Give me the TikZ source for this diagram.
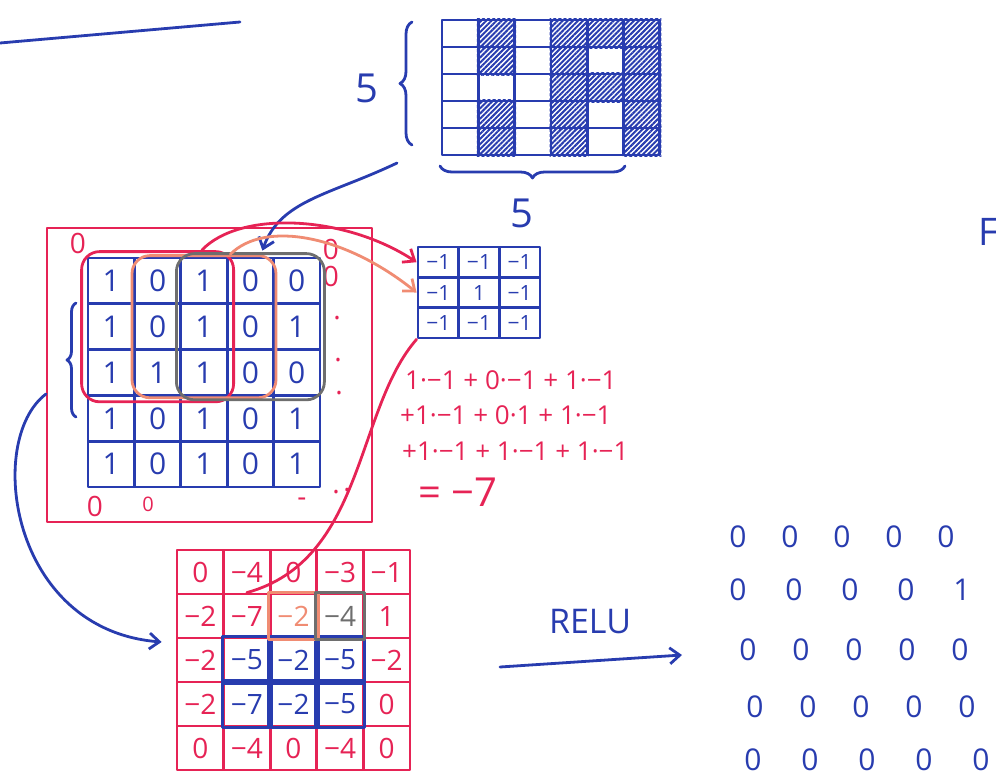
\documentclass[tikz,border=0pt]{standalone}
\usepackage{fontspec}
\setmainfont{Open Sans}
\usetikzlibrary{positioning, calc, fit, patterns.meta, decorations.pathreplacing, arrows.meta}
\definecolor{penblue}{RGB}{40,60,175}
\definecolor{penred}{RGB}{230,35,85}
\definecolor{penorange}{RGB}{240,140,115}
\definecolor{pengray}{RGB}{110,110,110}

\begin{document}
\begin{tikzpicture}[x=1pt, y=-1pt,
    ink/.style={line width=2.8pt, line cap=round, line join=round},
    topcell/.style={draw=penblue, ink, minimum width=36.3pt, minimum height=27pt, inner sep=0pt},
    hatched/.style={pattern={Lines[angle=45, distance=3.6pt, line width=2pt]}, pattern color=penblue},
    incell/.style={draw=penblue, ink, minimum width=46.4pt, minimum height=45.8pt, inner sep=0pt, text=penblue, font=\fontsize{30}{30}\selectfont},
    kercell/.style={draw=penblue, ink, minimum width=40.7pt, minimum height=30.3pt, inner sep=0pt, text=penblue, font=\fontsize{21}{21}\selectfont},
    outcell/.style={draw=penred, ink, minimum width=46.6pt, minimum height=44pt, inner sep=0pt, font=\fontsize{28}{28}\selectfont},
    relucell/.style={text=penblue, inner sep=0pt, font=\fontsize{30}{30}\selectfont},
    pad/.style={text=penred, inner sep=0pt, font=\fontsize{28}{28}\selectfont},
    window/.style={ink, rounded corners=18pt, inner sep=3pt},
    sum/.style={text=penred, anchor=west, inner sep=0pt, font=\fontsize{26}{26}\selectfont},
    arrow/.style={ink, -{Straight Barb[length=10pt, width=16pt, line width=2.8pt]}},
    brace/.style={ink, decorate, decoration={brace, amplitude=12pt}}
]
\useasboundingbox (0,0) rectangle (996,782);

\draw[penblue, ink] (0,43) -- (240,22);
\node[text=penblue, font=\fontsize{38}{38}\selectfont] (cutF) at (988,232) {F};

% image 5x6
\foreach \r in {1,...,5}
  \foreach \c in {1,...,6}
    \node[topcell] (top-\r-\c) at ({460.2+36.3*(\c-1)}, {33.5+27*(\r-1)}) {};
\foreach \r/\c in {1/2,1/4,1/5,1/6,2/2,2/4,2/6,3/4,3/5,3/6,4/2,4/4,4/6,5/2,5/4,5/6}
  \path[hatched] (top-\r-\c.south west) rectangle (top-\r-\c.north east);
\draw[penblue, brace] (412,145) -- (412,22);
\draw[penblue, brace] (625,166) -- (440,166);
\node[text=penblue, font=\fontsize{40}{40}\selectfont] (fiveleft) at (367,88) {5};
\node[text=penblue, font=\fontsize{40}{40}\selectfont] (fivebottom) at (522,213) {5};

% padded input
\node[draw=penred, ink, minimum width=325pt, minimum height=294pt] (padded) at (209.5,375) {};
\foreach \v [count=\k from 0] in {1,0,1,0,0, 1,0,1,0,1, 1,1,1,0,0, 1,0,1,0,1, 1,0,1,0,1} {
  \pgfmathtruncatemacro{\r}{div(\k,5)+1}
  \pgfmathtruncatemacro{\c}{mod(\k,5)+1}
  \node[incell] (in-\r-\c) at ({111.2+46.4*(\c-1)}, {280.9+45.8*(\r-1)}) {\v};
}
\node[pad] (pad-a) at (78,243) {0};
\node[pad] (pad-b) at (331,249) {0};
\node[pad] (pad-c) at (331,276) {0};
\node[pad] (pad-d) at (337,318) {.};
\node[pad] (pad-e) at (338,360) {.};
\node[pad] (pad-f) at (339,393) {.};
\node[pad] (pad-g) at (95,506) {0};
\node[pad, font=\fontsize{20}{20}\selectfont] (pad-h) at (148,504) {0};
\node[pad] (pad-i) at (302,502) {-};
\node[pad] (pad-j) at (336,492) {.};
\node[pad] (pad-k) at (347,490) {.};
\draw[penblue, ink, decorate, decoration={brace, amplitude=9pt}] (76,417) -- (76,303);

\node[window, draw=penred, fit=(in-1-1)(in-3-3), inner sep=5pt] (winA) {};
\node[window, draw=penorange, fit=(in-1-2)(in-3-4), inner sep=1pt] (winB) {};
\node[window, draw=pengray, fit=(in-1-3)(in-3-5), inner sep=3pt] (winC) {};

% kernel
\foreach \v [count=\k from 0] in {−1,−1,−1, −1,1,−1, −1,−1,−1} {
  \pgfmathtruncatemacro{\r}{div(\k,3)+1}
  \pgfmathtruncatemacro{\c}{mod(\k,3)+1}
  \node[kercell] (ker-\r-\c) at ({438.3+40.7*(\c-1)}, {262.2+30.3*(\r-1)}) {\v};
}

\node[sum] (sumA) at (405,380) {1·−1 + 0·−1 + 1·−1};
\node[sum] (sumB) at (400,415) {+1·−1 + 0·1 + 1·−1};
\node[sum] (sumC) at (402,451) {+1·−1 + 1·−1 + 1·−1};
\node[sum, font=\fontsize{40}{40}\selectfont] (sumD) at (418,492) {= −7};

% feature map
\foreach \r/\c/\v/\tc in {
  1/1/0/penred,1/2/−4/penred,1/3/0/penred,1/4/−3/penred,1/5/−1/penred,
  2/1/−2/penred,2/2/−7/penred,2/3/−2/penorange,2/4/−4/pengray,2/5/1/penred,
  3/1/−2/penred,3/2/−5/penblue,3/3/−2/penblue,3/4/−5/penblue,3/5/−2/penred,
  4/1/−2/penred,4/2/−7/penblue,4/3/−2/penblue,4/4/−5/penblue,4/5/0/penred,
  5/1/0/penred,5/2/−4/penred,5/3/0/penred,5/4/−4/penred,5/5/0/penred}
  \node[outcell, text=\tc] (out-\r-\c) at ({200.3+46.6*(\c-1)}, {572+44*(\r-1)}) {\v};
\foreach \r in {3,4}
  \foreach \c in {2,3,4}
    \draw[penblue, ink] (out-\r-\c.south west) rectangle (out-\r-\c.north east);
\draw[penorange, ink] (out-2-3.south west) rectangle (out-2-3.north east);
\draw[pengray, ink] (out-2-4.south west) rectangle (out-2-4.north east);

% relu
\node[text=penblue, font=\fontsize{34}{34}\selectfont] (relulabel) at (590,622) {RELU};
\foreach \r/\y/\x/\s in {1/537/738/52, 2/590/738/56, 3/650/748/53, 4/707/755/53, 5/760/753/57}
  \foreach \c in {1,...,5}
    \node[relucell] (relu-\r-\c) at ({\x+\s*(\c-1)}, \y) {\ifnum\r\c=25 1\else 0\fi};

\coordinate (imgtail) at (397,163);
\coordinate (intail) at (46,394);
\coordinate (reluin) at (500,667);
\coordinate (reluout) at (682,655);

\draw[penblue, arrow] (imgtail) .. controls (330,195) and (280,200) .. ($(in-1-4.north)+(12,-6)$);
\draw[penred, arrow] (winA.60) .. controls (240,210) and (345,215) .. (ker-1-1.west);
\draw[penorange, arrow] (winB.70) .. controls (265,220) and (345,235) .. (ker-2-1.west);
\draw[penred, ink] (ker-3-1.south west) .. controls (355,410) and (365,560) .. (out-2-2.north);
\draw[penblue, arrow] (intail) .. controls (-15,440) and (10,630) .. ($(out-3-1.west)+(-14,-18)$);
\draw[penblue, arrow] (reluin) -- (reluout);

\end{tikzpicture}
\end{document}
